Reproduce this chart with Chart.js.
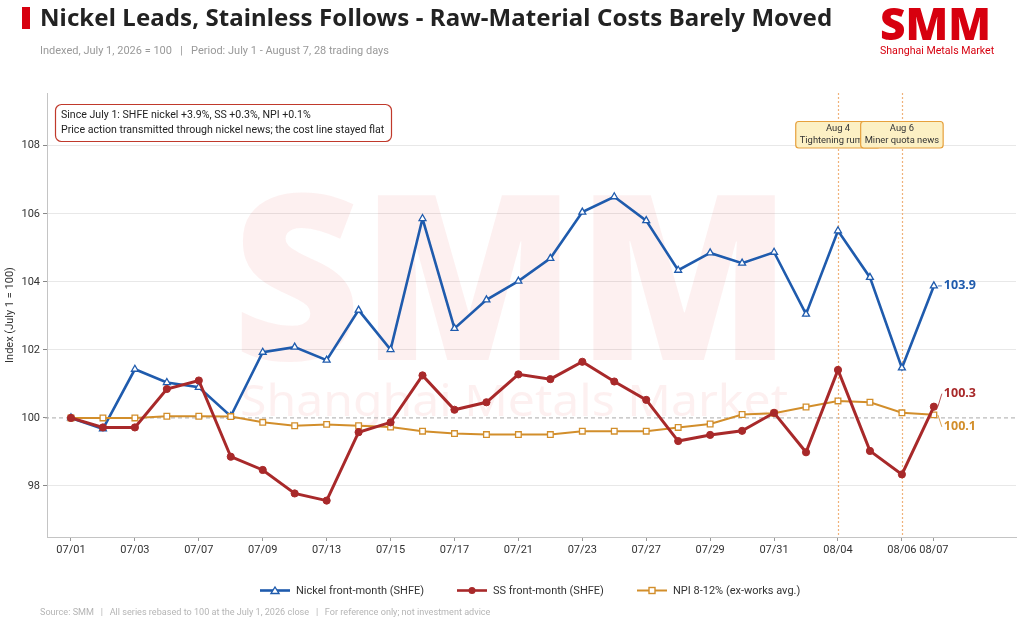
<!DOCTYPE html>
<html>
<head>
<meta charset="utf-8">
<script src="https://cdn.jsdelivr.net/npm/chart.js@4.4.1/dist/chart.umd.min.js"></script>
<style>
  body { margin: 0; width: 1024px; height: 627px; position: relative; overflow: hidden; background: #fff; font-family: Roboto, "Noto Sans", sans-serif; }
  .abs { position: absolute; white-space: nowrap; }
  #bar { left: 22px; top: 7px; width: 8px; height: 22px; background: #d7000f; }
  #title { left: 40px; top: 0px; font-family: "Noto Sans", sans-serif; font-size: 24px; font-weight: 700; color: #222; letter-spacing: 0.1px; }
  #sub { left: 40px; top: 44px; font-size: 11px; color: #999; }
  #logo { left: 880px; top: 8px; width: 111px; height: 32px; }
  #logoText { left: 880px; top: 44px; font-size: 10.6px; color: #d7000f; }
  .leg { top: 584px; font-size: 11px; color: #333; display: flex; align-items: center; }
  .leg svg { margin-right: 6px; }
  #foot { left: 40px; top: 607px; font-size: 9.1px; color: #b5b5b5; }
  canvas { position: absolute; left: 0; top: 0; }
</style>
</head>
<body>
<canvas id="chart" width="1024" height="627"></canvas>
<div class="abs" id="bar"></div>
<div class="abs" id="title">Nickel Leads, Stainless Follows - Raw-Material Costs Barely Moved</div>
<div class="abs" id="sub">Indexed, July 1, 2026 = 100&nbsp;&nbsp;&nbsp;|&nbsp;&nbsp;&nbsp;Period: July 1 - August 7, 28 trading days</div>
<canvas class="abs" id="logo" width="111" height="32"></canvas>
<div class="abs" id="logoText">Shanghai Metals Market</div>
<div id="legend"></div>
<div class="abs" id="foot">Source: SMM&nbsp;&nbsp;&nbsp;|&nbsp;&nbsp;&nbsp;All series rebased to 100 at the July 1, 2026 close&nbsp;&nbsp;&nbsp;|&nbsp;&nbsp;&nbsp;For reference only; not investment advice</div>
<script>
// trading days, July 1 - August 7
const dates = ['07/01','07/02','07/03','07/06','07/07','07/08','07/09','07/10','07/13','07/14',
  '07/15','07/16','07/17','07/20','07/21','07/22','07/23','07/24','07/27','07/28',
  '07/29','07/30','07/31','08/03','08/04','08/05','08/06','08/07'];
const tickIdx = [0, 2, 4, 6, 8, 10, 12, 14, 16, 18, 20, 22, 24, 26, 27];
const yTicks = [98, 100, 102, 104, 106, 108];

const nickel = [100.0, 99.68, 101.43, 101.04, 100.9, 100.05, 101.93, 102.08, 101.7, 103.17,
  102.01, 105.86, 102.63, 103.47, 104.02, 104.69, 106.05, 106.5, 105.8, 104.34,
  104.85, 104.55, 104.87, 103.05, 105.5, 104.13, 101.47, 103.88];
const ss = [100.0, 99.72, 99.72, 100.85, 101.1, 98.86, 98.47, 97.78, 97.57, 99.58,
  99.87, 101.25, 100.24, 100.46, 101.28, 101.14, 101.65, 101.07, 100.53, 99.32,
  99.5, 99.62, 100.15, 98.99, 101.41, 99.03, 98.34, 100.33];
const npi = [100.0, 100.0, 100.0, 100.05, 100.05, 100.04, 99.87, 99.77, 99.81, 99.77,
  99.73, 99.61, 99.54, 99.51, 99.51, 99.51, 99.61, 99.61, 99.61, 99.72,
  99.82, 100.1, 100.14, 100.32, 100.5, 100.46, 100.15, 100.09];

const seriesNames = ['Nickel front-month (SHFE)', 'SS front-month (SHFE)', 'NPI 8-12% (ex-works avg.)'];
const seriesColors = ['#1f5bad', '#a8292a', '#d28e2b'];

const eventIdx = [24, 26];
const eventDates = ['Aug 4', 'Aug 6'];
const eventNotes = ['Tightening rumors', 'Miner quota news'];

const noteLines = ['Since July 1: SHFE nickel +3.9%, SS +0.3%, NPI +0.1%',
  'Price action transmitted through nickel news; the cost line stayed flat'];

const FONT = 'Roboto, "Noto Sans", sans-serif';
const HEAVY = '"Noto Sans", sans-serif';

// --- logo ---
(function () {
  const c = document.getElementById('logo').getContext('2d');
  c.fillStyle = '#d7000f';
  c.font = `900 44px ${HEAVY}`;
  const w = c.measureText('SMM').width;
  c.save();
  c.scale(111 / w, 32 / 32);
  c.textBaseline = 'alphabetic';
  c.fillText('SMM', 0, 32);
  c.restore();
})();

// --- legend (html) ---
const legendLeft = [260, 457, 637];
const legendMarks = [
  '<polygon points="15,2 19,8.5 11,8.5" fill="#fff" stroke="C" stroke-width="1.4"/>',
  '<circle cx="15" cy="5.5" r="3.5" fill="C"/>',
  '<rect x="12" y="2.5" width="6" height="6" fill="#fff" stroke="C" stroke-width="1.4"/>'
];
document.getElementById('legend').innerHTML = seriesNames.map((n, i) =>
  `<div class="abs leg" style="left:${legendLeft[i]}px"><svg width="30" height="11">` +
  `<line x1="0" y1="5.5" x2="30" y2="5.5" stroke="${seriesColors[i]}" stroke-width="${i == 2 ? 2 : 2.6}"/>` +
  legendMarks[i].replace(/C/g, seriesColors[i]) + `</svg>${n}</div>`).join('');

const pts = arr => arr.map((v, i) => ({ x: i, y: v }));

// watermark, reference line, event lines, annotations
const backPlugin = {
  id: 'back',
  beforeDatasetsDraw(chart) {
    const { ctx, chartArea: a, scales: { x, y } } = chart;
    ctx.save();
    ctx.fillStyle = 'rgba(228,50,50,0.075)';
    ctx.textBaseline = 'alphabetic';
    ctx.font = `900 231px ${HEAVY}`;
    let w = ctx.measureText('SMM').width;
    ctx.save();
    ctx.translate(232, 360);
    ctx.scale(560 / w, 1);
    ctx.fillText('SMM', 0, 0);
    ctx.restore();
    ctx.font = `400 44px ${HEAVY}`;
    w = ctx.measureText('Shanghai Metals Market').width;
    ctx.save();
    ctx.translate(240, 416);
    ctx.scale(548 / w, 1);
    ctx.fillText('Shanghai Metals Market', 0, 0);
    ctx.restore();

    // 100 baseline
    const y100 = y.getPixelForValue(100);
    ctx.strokeStyle = '#aaa';
    ctx.lineWidth = 1;
    ctx.setLineDash([4, 3]);
    ctx.beginPath();
    ctx.moveTo(a.left - 2, y100);
    ctx.lineTo(a.right, y100);
    ctx.stroke();

    // event lines
    ctx.strokeStyle = '#f0b27a';
    ctx.lineWidth = 1.2;
    ctx.setLineDash([2, 2]);
    eventIdx.forEach(i => {
      const px = Math.round(x.getPixelForValue(i)) + 0.5;
      ctx.beginPath();
      ctx.moveTo(px, a.top);
      ctx.lineTo(px, a.bottom);
      ctx.stroke();
    });
    ctx.restore();
  },
  afterDatasetsDraw(chart) {
    const { ctx, scales: { x, y } } = chart;
    ctx.save();
    // note box
    ctx.beginPath();
    ctx.roundRect(55.5, 104.5, 336, 37, 6);
    ctx.fillStyle = '#fff';
    ctx.fill();
    ctx.strokeStyle = '#c0392b';
    ctx.lineWidth = 1.2;
    ctx.stroke();
    ctx.fillStyle = '#222';
    ctx.font = `10.6px ${FONT}`;
    ctx.textBaseline = 'middle';
    ctx.textAlign = 'left';
    noteLines.forEach((t, i) => ctx.fillText(t, 61, 115 + i * 15));

    // event boxes
    ctx.textAlign = 'center';
    ctx.font = `9.4px ${FONT}`;
    eventIdx.forEach((idx, k) => {
      const cx = x.getPixelForValue(idx);
      const w = ctx.measureText(eventNotes[k]).width + 8;
      ctx.beginPath();
      ctx.roundRect(cx - w / 2, 121.5, w, 26.5, 3);
      ctx.fillStyle = '#fcf0c4';
      ctx.fill();
      ctx.strokeStyle = '#e6a03c';
      ctx.lineWidth = 1.2;
      ctx.stroke();
      ctx.fillStyle = '#333';
      ctx.fillText(eventDates[k], cx, 128.5);
      ctx.fillText(eventNotes[k], cx, 140.5);
    });

    // end labels
    const last = dates.length - 1;
    const offs = [0, -13, 12];
    [nickel, ss, npi].forEach((arr, i) => {
      const px = x.getPixelForValue(last);
      const py = y.getPixelForValue(arr[last]);
      const ly = py + offs[i];
      ctx.strokeStyle = seriesColors[i];
      ctx.lineWidth = 0.8;
      ctx.beginPath();
      ctx.moveTo(px + 4, py);
      ctx.lineTo(px + 8, ly);
      ctx.stroke();
      ctx.fillStyle = seriesColors[i];
      ctx.font = `bold 12.5px ${HEAVY}`;
      ctx.textAlign = 'left';
      ctx.fillText(arr[last].toFixed(1), px + 10, ly);
    });
    ctx.restore();
  }
};

new Chart(document.getElementById('chart'), {
  type: 'line',
  data: {
    datasets: [
      {
        label: seriesNames[0], data: pts(nickel), order: 3,
        borderColor: seriesColors[0], borderWidth: 2.6,
        pointStyle: 'triangle', pointRadius: 4, pointBackgroundColor: '#fff',
        pointBorderColor: seriesColors[0], pointBorderWidth: 1.3
      },
      {
        label: seriesNames[1], data: pts(ss), order: 1,
        borderColor: seriesColors[1], borderWidth: 3,
        pointStyle: 'circle', pointRadius: 3.6, pointBackgroundColor: seriesColors[1],
        pointBorderColor: seriesColors[1], pointBorderWidth: 1
      },
      {
        label: seriesNames[2], data: pts(npi), order: 2,
        borderColor: seriesColors[2], borderWidth: 2,
        pointStyle: 'rect', pointRadius: 4, pointBackgroundColor: '#fff',
        pointBorderColor: seriesColors[2], pointBorderWidth: 1.3
      }
    ]
  },
  options: {
    responsive: false,
    animation: false,
    layout: { padding: { top: 93, right: 8, bottom: 60, left: 0 } },
    plugins: { legend: { display: false }, tooltip: { enabled: false } },
    scales: {
      x: {
        type: 'linear', min: -0.75, max: 29.57,
        afterBuildTicks: s => { s.ticks = tickIdx.map(v => ({ value: v })); },
        afterFit: s => { s.height = 30; },
        ticks: {
          autoSkip: false, maxRotation: 0, color: '#333', padding: 3,
          font: { family: FONT, size: 11 },
          callback: v => dates[v]
        },
        grid: { drawOnChartArea: false, drawTicks: true, tickLength: 4, tickColor: '#999' },
        border: { display: true, color: '#c4c4c4', width: 1 }
      },
      y: {
        min: 96.5, max: 109.55,
        afterBuildTicks: s => { s.ticks = yTicks.map(v => ({ value: v })); },
        afterFit: s => { s.width = 47; },
        ticks: { color: '#333', padding: 3, font: { family: FONT, size: 11 } },
        grid: {
          color: c => c.tick && c.tick.value === 100 ? 'rgba(0,0,0,0)' : '#e8e8e8',
          lineWidth: 1, drawTicks: true, tickLength: 4, tickColor: '#888'
        },
        border: { display: true, color: '#c4c4c4', width: 1 },
        title: {
          display: true, text: 'Index (July 1 = 100)', color: '#333',
          font: { family: FONT, size: 11 }, padding: { top: 4, bottom: 0 }
        }
      }
    }
  },
  plugins: [backPlugin]
});
</script>
</body>
</html>
